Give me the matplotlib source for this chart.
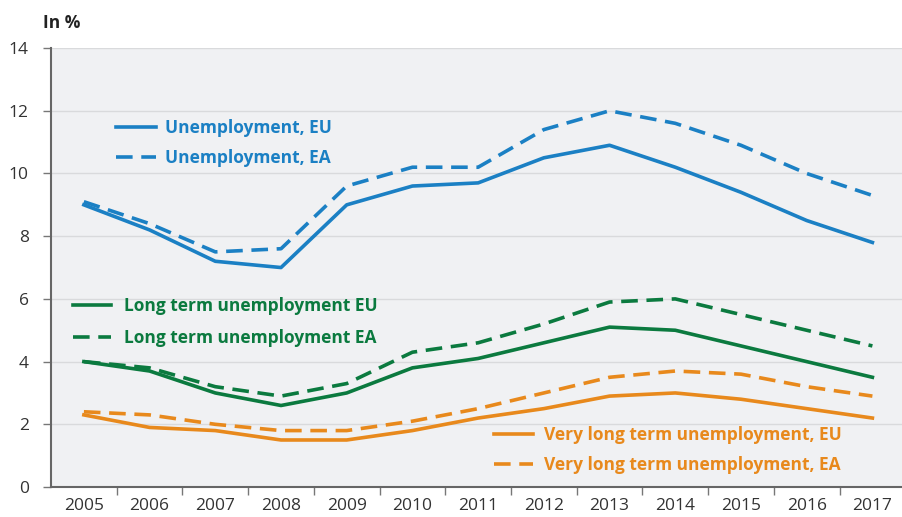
import numpy as np
import matplotlib
matplotlib.use('Agg')
import matplotlib.pyplot as plt

plt.rcParams['font.family'] = ['Open Sans', 'DejaVu Sans']

# data
years = ['2005', '2006', '2007', '2008', '2009', '2010', '2011',
         '2012', '2013', '2014', '2015', '2016', '2017']
unemp_eu = [9.0, 8.2, 7.2, 7.0, 9.0, 9.6, 9.7, 10.5, 10.9, 10.2, 9.4, 8.5, 7.8]
unemp_ea = [9.1, 8.4, 7.5, 7.6, 9.6, 10.2, 10.2, 11.4, 12.0, 11.6, 10.9, 10.0, 9.3]
lt_eu = [4.0, 3.7, 3.0, 2.6, 3.0, 3.8, 4.1, 4.6, 5.1, 5.0, 4.5, 4.0, 3.5]
lt_ea = [4.0, 3.8, 3.2, 2.9, 3.3, 4.3, 4.6, 5.2, 5.9, 6.0, 5.5, 5.0, 4.5]
vlt_eu = [2.3, 1.9, 1.8, 1.5, 1.5, 1.8, 2.2, 2.5, 2.9, 3.0, 2.8, 2.5, 2.2]
vlt_ea = [2.4, 2.3, 2.0, 1.8, 1.8, 2.1, 2.5, 3.0, 3.5, 3.7, 3.6, 3.2, 2.9]

BLUE = '#1b80c4'
GREEN = '#0b7a3f'
ORANGE = '#e8891c'
DASH = (0, (4.6, 2.4))

fig = plt.figure(figsize=(9.03, 5.17), dpi=100)
ax = fig.add_axes([0.0565, 0.058, 0.946, 0.849])
ax.set_facecolor('#f0f1f3')

x = np.arange(len(years))
lw = 2.6
l1, = ax.plot(x, unemp_eu, color=BLUE, lw=lw, label='Unemployment, EU')
l2, = ax.plot(x, unemp_ea, color=BLUE, lw=lw, ls=DASH, label='Unemployment, EA')
l3, = ax.plot(x, lt_eu, color=GREEN, lw=lw, label='Long term unemployment EU')
l4, = ax.plot(x, lt_ea, color=GREEN, lw=lw, ls=DASH, label='Long term unemployment EA')
l5, = ax.plot(x, vlt_eu, color=ORANGE, lw=lw, label='Very long term unemployment, EU')
l6, = ax.plot(x, vlt_ea, color=ORANGE, lw=lw, ls=DASH, label='Very long term unemployment, EA')

ax.set_xlim(-0.5, len(years) - 0.5)
ax.set_ylim(0, 14)
ax.set_yticks(np.arange(0, 15, 2))
ax.yaxis.grid(True, color='#d9dadc', lw=1)
ax.set_axisbelow(True)

ax.set_xticks(x)
ax.set_xticklabels(years)
ax.set_xticks(np.arange(0.5, len(years) - 1, 1), minor=True)
ax.tick_params(axis='x', which='major', length=0, pad=8, labelsize=12.5, labelcolor='#333333')
ax.tick_params(axis='x', which='minor', length=6, width=1, color='#777777', direction='out')
ax.tick_params(axis='y', length=6, width=1, color='#777777', labelsize=12.5,
               labelcolor='#333333', pad=10)

for s in ['top', 'right']:
    ax.spines[s].set_visible(False)
for s in ['left', 'bottom']:
    ax.spines[s].set_color('#666666')
    ax.spines[s].set_linewidth(1.5)

fig.text(0.048, 0.955, 'In %', fontsize=12.5, fontweight='bold', color='#222222', va='center')

prop = {'size': 12.5, 'weight': 'bold'}
leg1 = ax.legend(handles=[l1, l2], loc='center left', bbox_to_anchor=(0.076, 0.784),
                 frameon=False, prop=prop, labelcolor=BLUE, handlelength=2.3,
                 handletextpad=0.5, labelspacing=0.7, borderpad=0, borderaxespad=0)
ax.add_artist(leg1)
leg2 = ax.legend(handles=[l3, l4], loc='center left', bbox_to_anchor=(0.026, 0.376),
                 frameon=False, prop=prop, labelcolor=GREEN, handlelength=2.2,
                 handletextpad=0.75, labelspacing=0.8, borderpad=0, borderaxespad=0)
ax.add_artist(leg2)
leg3 = ax.legend(handles=[l5, l6], loc='center left', bbox_to_anchor=(0.518, 0.084),
                 frameon=False, prop=prop, labelcolor=ORANGE, handlelength=2.3,
                 handletextpad=0.6, labelspacing=0.7, borderpad=0, borderaxespad=0)

fig.savefig('out.png', dpi=100)
